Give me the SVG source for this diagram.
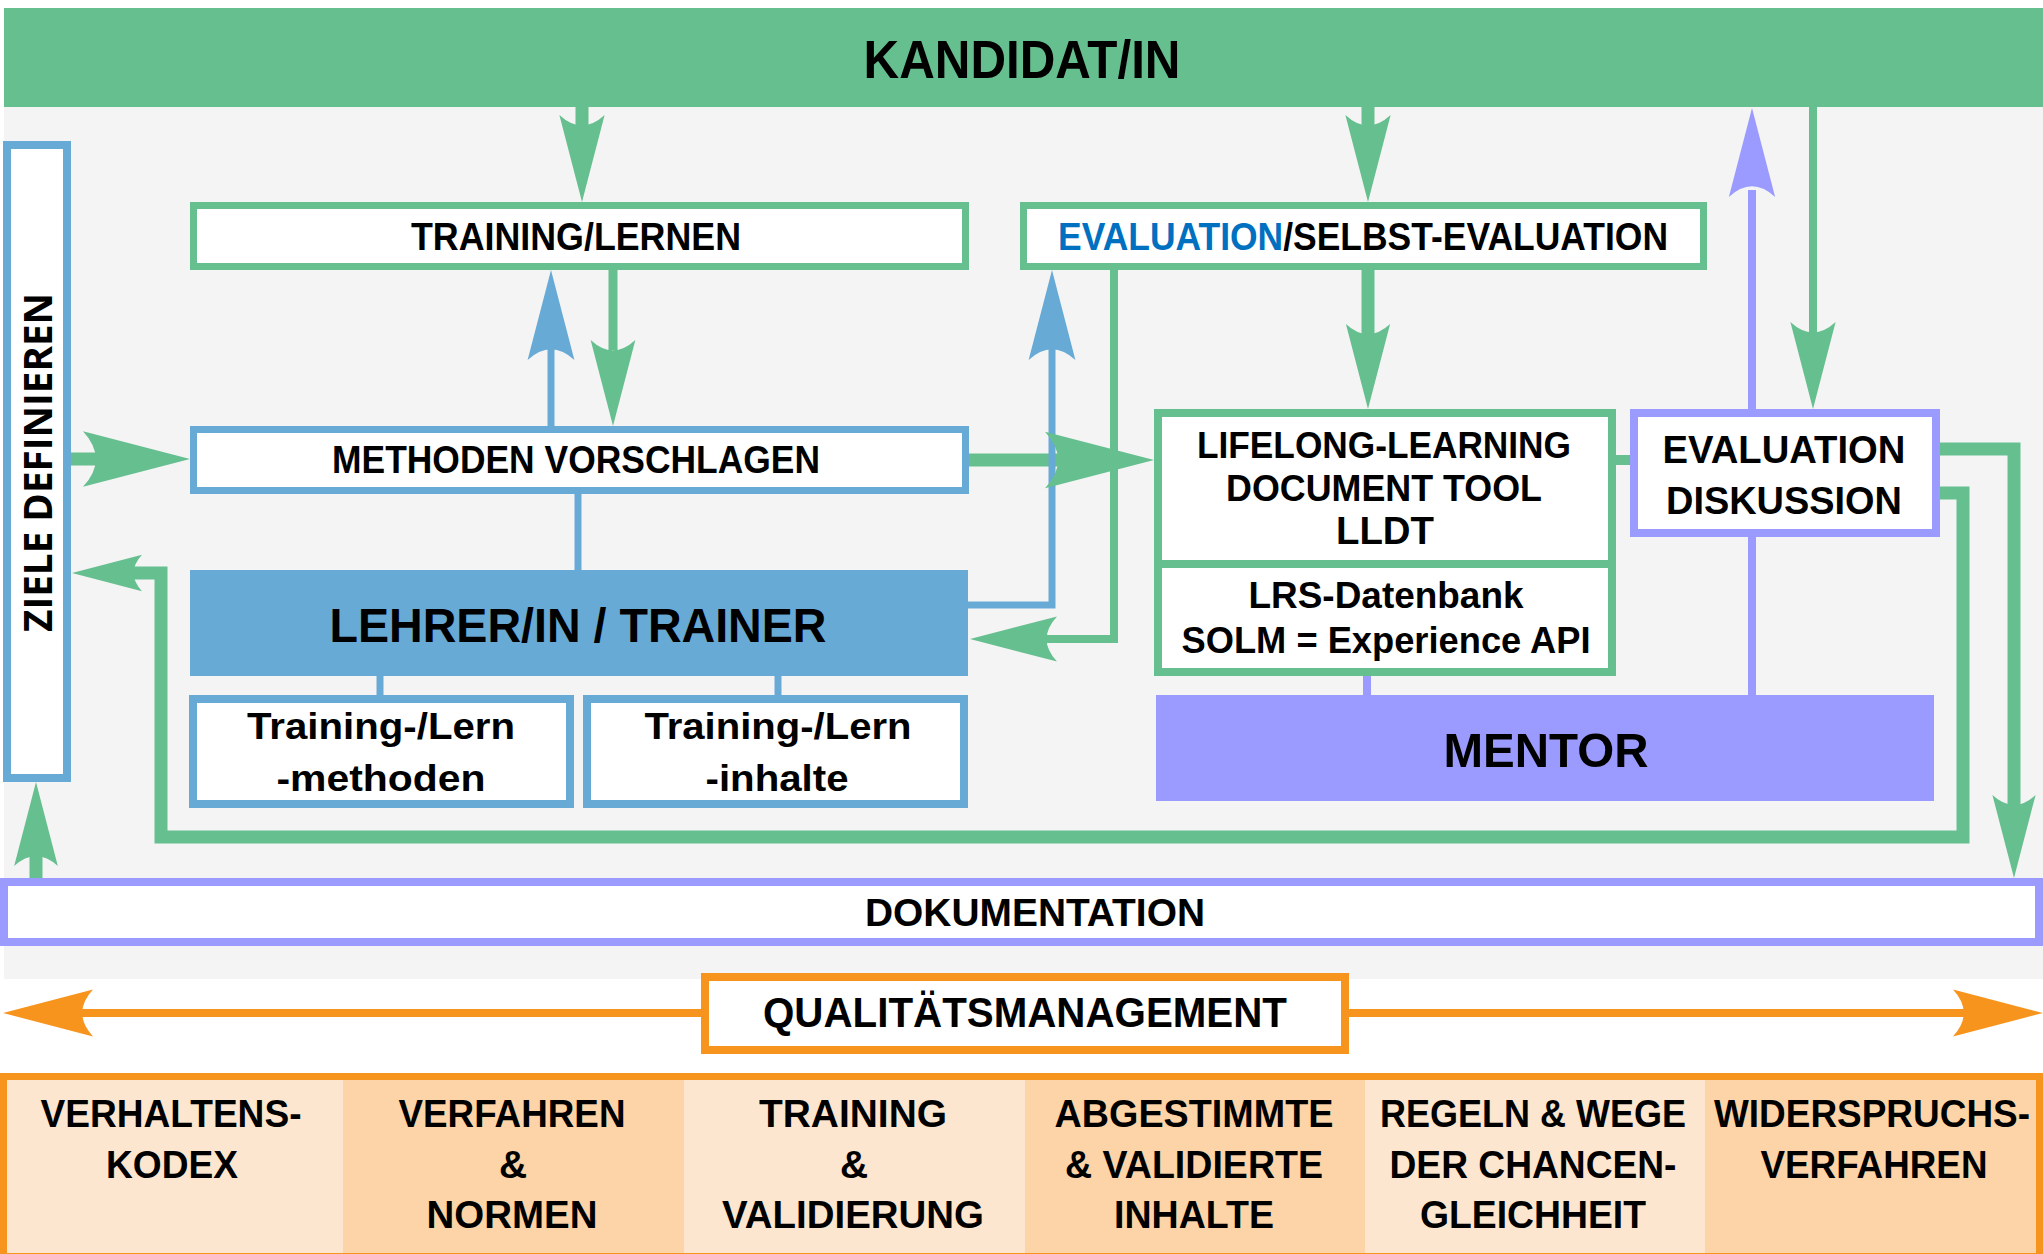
<svg xmlns="http://www.w3.org/2000/svg" xmlns:xlink="http://www.w3.org/1999/xlink" width="2043" height="1254" viewBox="0 0 2043 1254">
<style>
text{font-family:"Liberation Sans",Arial,sans-serif;font-weight:bold;fill:#000;text-anchor:middle}
.wide{font-family:"Open Sans","Liberation Sans",sans-serif}
.g{stroke:#66bf8f;fill:none}
.b{stroke:#68aad6;fill:none}
.p{stroke:#9b9bff;fill:none}
.o{stroke:#f7941d;fill:none}
.gf{fill:#66bf8f}
.bf{fill:#68aad6}
.pf{fill:#9b9bff}
.of{fill:#f7941d}
.box{fill:#fff}
.c1{fill:#fde6cf}
.c2{fill:#fcd4a7}
</style>
<defs>
<path id="ah" d="M0,0 L-100,-26 Q-76,0 -100,26 Z"/>
</defs>
<rect x="0" y="0" width="2043" height="1254" fill="#fff"/>
<rect x="4" y="107" width="2039" height="872" fill="#f4f4f4"/>

<g id="kandidat">
<rect x="4" y="8" width="2039" height="99" class="gf"/>
<text x="1022" y="78" font-size="53" textLength="317" lengthAdjust="spacingAndGlyphs">KANDIDAT/IN</text>
</g>

<g id="connectors">
<line x1="582" y1="107" x2="582" y2="130" class="g" stroke-width="13"/>
<use xlink:href="#ah" transform="translate(582,202) rotate(90) scale(0.87)" class="gf"/>
<line x1="1368" y1="107" x2="1368" y2="130" class="g" stroke-width="13"/>
<use xlink:href="#ah" transform="translate(1368,202) rotate(90) scale(0.87)" class="gf"/>
<line x1="551" y1="426" x2="551" y2="345" class="b" stroke-width="7"/>
<use xlink:href="#ah" transform="translate(551,270) rotate(-90) scale(0.9)" class="bf"/>
<line x1="613" y1="270" x2="613" y2="350" class="g" stroke-width="9"/>
<use xlink:href="#ah" transform="translate(613,426) rotate(90) scale(0.86)" class="gf"/>
<line x1="71" y1="459" x2="100" y2="459" class="g" stroke-width="13"/>
<use xlink:href="#ah" transform="translate(190,459) scale(1.07)" class="gf"/>
<line x1="969" y1="460" x2="1062" y2="460" class="g" stroke-width="13"/>
<line x1="578" y1="494" x2="578" y2="570" class="b" stroke-width="7"/>
<path d="M968,605 H1052 V340" class="b" stroke-width="7"/>
<use xlink:href="#ah" transform="translate(1052,270) rotate(-90) scale(0.9)" class="bf"/>
<use xlink:href="#ah" transform="translate(1154,460) scale(1.09)" class="gf"/>
<path d="M1114,270 V639 H1045" class="g" stroke-width="8"/>
<use xlink:href="#ah" transform="translate(970,639) rotate(180) scale(0.87)" class="gf"/>
<line x1="1368" y1="270" x2="1368" y2="340" class="g" stroke-width="13"/>
<use xlink:href="#ah" transform="translate(1368,409) rotate(90) scale(0.85)" class="gf"/>
<line x1="380" y1="676" x2="380" y2="695" class="b" stroke-width="7"/>
<line x1="778" y1="676" x2="778" y2="695" class="b" stroke-width="7"/>
<line x1="1616" y1="460" x2="1630" y2="460" class="g" stroke-width="10"/>
<line x1="1752" y1="409" x2="1752" y2="190" class="p" stroke-width="8"/>
<use xlink:href="#ah" transform="translate(1752,108) rotate(-90) scale(0.89)" class="pf"/>
<line x1="1813" y1="107" x2="1813" y2="335" class="g" stroke-width="8"/>
<use xlink:href="#ah" transform="translate(1813,409) rotate(90) scale(0.87)" class="gf"/>
<line x1="1752" y1="537" x2="1752" y2="695" class="p" stroke-width="8"/>
<line x1="1367" y1="676" x2="1367" y2="695" class="p" stroke-width="8"/>
<path d="M1940,449 H2014 V805" class="g" stroke-width="13"/>
<use xlink:href="#ah" transform="translate(2014,878) rotate(90) scale(0.83)" class="gf"/>
<path d="M1940,493 H1963 V837 H161 V573 H125" class="g" stroke-width="13"/>
<use xlink:href="#ah" transform="translate(72,573) rotate(180) scale(0.7)" class="gf"/>
<line x1="36" y1="878" x2="36" y2="850" class="g" stroke-width="13"/>
<use xlink:href="#ah" transform="translate(36,782) rotate(-90) scale(0.84)" class="gf"/>
<line x1="701" y1="1013" x2="80" y2="1013" class="o" stroke-width="8"/>
<use xlink:href="#ah" transform="translate(3,1013) rotate(180) scale(0.9)" class="of"/>
<line x1="1349" y1="1013" x2="1966" y2="1013" class="o" stroke-width="8"/>
<use xlink:href="#ah" transform="translate(2043,1013) scale(0.9)" class="of"/>
</g>

<g id="ziele">
<rect x="7" y="145" width="60" height="633" class="box b" stroke-width="8"/>
<text class="wide" transform="translate(52,462.5) rotate(-90)" x="0" y="0" font-size="40" textLength="339" lengthAdjust="spacingAndGlyphs">ZIELE DEFINIEREN</text>
</g>

<g id="training-lernen">
<rect x="193.5" y="205.5" width="772" height="61" class="box g" stroke-width="7"/>
<text x="576" y="250" font-size="39" textLength="330" lengthAdjust="spacingAndGlyphs">TRAINING/LERNEN</text>
</g>

<g id="evaluation-selbst">
<rect x="1023.5" y="205.5" width="680" height="61" class="box g" stroke-width="7"/>
<text x="1363" y="250" font-size="39" textLength="610" lengthAdjust="spacingAndGlyphs"><tspan style="fill:#0070c0">EVALUATION</tspan>/SELBST-EVALUATION</text>
</g>

<g id="methoden">
<rect x="193.5" y="429.5" width="772" height="61" class="box b" stroke-width="7"/>
<text x="576" y="473" font-size="38" textLength="488" lengthAdjust="spacingAndGlyphs">METHODEN VORSCHLAGEN</text>
</g>

<g id="lehrer">
<rect x="190" y="570" width="778" height="106" class="bf"/>
<text x="578" y="642" font-size="49" textLength="497" lengthAdjust="spacingAndGlyphs">LEHRER/IN / TRAINER</text>
</g>

<g id="lernmethoden">
<rect x="193" y="699" width="377" height="105" class="box b" stroke-width="8"/>
<text x="381" y="739" font-size="37" textLength="268" lengthAdjust="spacingAndGlyphs">Training-/Lern</text>
<text x="381" y="791" font-size="37" textLength="209" lengthAdjust="spacingAndGlyphs">-methoden</text>
</g>

<g id="lerninhalte">
<rect x="587" y="699" width="377" height="105" class="box b" stroke-width="8"/>
<text x="778" y="739" font-size="37" textLength="267" lengthAdjust="spacingAndGlyphs">Training-/Lern</text>
<text x="777" y="791" font-size="37" textLength="143" lengthAdjust="spacingAndGlyphs">-inhalte</text>
</g>

<g id="lldt">
<rect x="1158" y="413" width="454" height="259" class="box g" stroke-width="8"/>
<line x1="1158" y1="564" x2="1612" y2="564" class="g" stroke-width="8"/>
<text x="1384" y="458" font-size="37" textLength="374" lengthAdjust="spacingAndGlyphs">LIFELONG-LEARNING</text>
<text x="1384" y="501" font-size="37" textLength="316" lengthAdjust="spacingAndGlyphs">DOCUMENT TOOL</text>
<text x="1385" y="544" font-size="38" textLength="98" lengthAdjust="spacingAndGlyphs">LLDT</text>
<text x="1386" y="608" font-size="37" textLength="275" lengthAdjust="spacingAndGlyphs">LRS-Datenbank</text>
<text x="1386" y="653" font-size="37" textLength="409" lengthAdjust="spacingAndGlyphs">SOLM = Experience API</text>
</g>

<g id="evaluation-diskussion">
<rect x="1634" y="413" width="302" height="120" class="box p" stroke-width="8"/>
<text x="1784" y="463" font-size="39" textLength="243" lengthAdjust="spacingAndGlyphs">EVALUATION</text>
<text x="1784" y="514" font-size="39" textLength="236" lengthAdjust="spacingAndGlyphs">DISKUSSION</text>
</g>

<g id="mentor">
<rect x="1156" y="695" width="778" height="106" class="pf"/>
<text x="1546" y="767" font-size="49" textLength="205" lengthAdjust="spacingAndGlyphs">MENTOR</text>
</g>

<g id="dokumentation">
<rect x="4" y="882" width="2035" height="60" class="box p" stroke-width="8"/>
<text x="1035" y="926" font-size="38" textLength="340" lengthAdjust="spacingAndGlyphs">DOKUMENTATION</text>
</g>

<g id="qualitaetsmanagement">
<rect x="705" y="977" width="640" height="73" class="box o" stroke-width="8"/>
<text x="1025" y="1027" font-size="42" textLength="524" lengthAdjust="spacingAndGlyphs">QUALITÄTSMANAGEMENT</text>
</g>

<g id="saeulen">
<rect x="3" y="1076" width="2037" height="178" class="c1"/>
<rect x="343" y="1080" width="341" height="174" class="c2"/>
<rect x="1025" y="1080" width="340" height="174" class="c2"/>
<rect x="1705" y="1080" width="335" height="174" class="c2"/>
<rect x="3.5" y="1076.5" width="2036" height="180" class="o" stroke-width="7"/>
<g id="verhaltenskodex">
<text x="171" y="1127" font-size="39" textLength="261" lengthAdjust="spacingAndGlyphs">VERHALTENS-</text>
<text x="172" y="1178" font-size="39" textLength="132" lengthAdjust="spacingAndGlyphs">KODEX</text>
</g>
<g id="verfahren-normen">
<text x="512" y="1127" font-size="39" textLength="227" lengthAdjust="spacingAndGlyphs">VERFAHREN</text>
<text x="513" y="1178" font-size="39">&amp;</text>
<text x="512" y="1228" font-size="39" textLength="171" lengthAdjust="spacingAndGlyphs">NORMEN</text>
</g>
<g id="training-validierung">
<text x="853" y="1127" font-size="39" textLength="188" lengthAdjust="spacingAndGlyphs">TRAINING</text>
<text x="854" y="1178" font-size="39">&amp;</text>
<text x="853" y="1228" font-size="39" textLength="262" lengthAdjust="spacingAndGlyphs">VALIDIERUNG</text>
</g>
<g id="inhalte">
<text x="1194" y="1127" font-size="39" textLength="279" lengthAdjust="spacingAndGlyphs">ABGESTIMMTE</text>
<text x="1194" y="1178" font-size="39" textLength="258" lengthAdjust="spacingAndGlyphs">&amp; VALIDIERTE</text>
<text x="1194" y="1228" font-size="39" textLength="160" lengthAdjust="spacingAndGlyphs">INHALTE</text>
</g>
<g id="chancengleichheit">
<text x="1533" y="1127" font-size="39" textLength="306" lengthAdjust="spacingAndGlyphs">REGELN &amp; WEGE</text>
<text x="1533" y="1178" font-size="39" textLength="287" lengthAdjust="spacingAndGlyphs">DER CHANCEN-</text>
<text x="1533" y="1228" font-size="39" textLength="226" lengthAdjust="spacingAndGlyphs">GLEICHHEIT</text>
</g>
<g id="widerspruchsverfahren">
<text x="1872" y="1127" font-size="39" textLength="316" lengthAdjust="spacingAndGlyphs">WIDERSPRUCHS-</text>
<text x="1874" y="1178" font-size="39" textLength="227" lengthAdjust="spacingAndGlyphs">VERFAHREN</text>
</g>
</g>
</svg>
